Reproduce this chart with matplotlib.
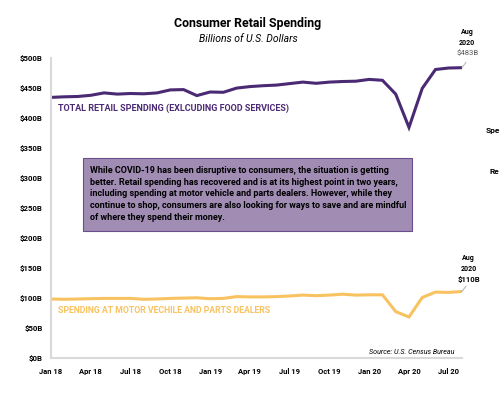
import matplotlib
matplotlib.use("Agg")
import matplotlib.pyplot as plt
from matplotlib.patches import Rectangle

# monthly values, Jan 2018 - Aug 2020 (billions of dollars)
months = ["Jan 18", "Feb 18", "Mar 18", "Apr 18", "May 18", "Jun 18", "Jul 18", "Aug 18",
          "Sep 18", "Oct 18", "Nov 18", "Dec 18", "Jan 19", "Feb 19", "Mar 19", "Apr 19",
          "May 19", "Jun 19", "Jul 19", "Aug 19", "Sep 19", "Oct 19", "Nov 19", "Dec 19",
          "Jan 20", "Feb 20", "Mar 20", "Apr 20", "May 20", "Jun 20", "Jul 20", "Aug 20"]
retail = [433.5, 434.5, 435, 437, 441, 439, 440, 439.5, 441, 446, 446.5, 436.5,
          442.5, 442, 449, 451.5, 453, 454, 456.5, 459, 457, 459, 460, 460.5,
          463.5, 462, 439, 383.5, 448.5, 480, 482.5, 483]
motor = [97.5, 97, 97.5, 98, 98.5, 98.5, 98.5, 97, 97.5, 98.5, 99, 99.5,
         98, 98.5, 101.5, 101, 101, 101.5, 102.5, 104, 103, 104, 105.5, 104,
         104.5, 104.5, 76.5, 67.5, 100, 109, 108.5, 110]
tick_labels = ["Jan 18", "Apr 18", "Jul 18", "Oct 18", "Jan 19", "Apr 19", "Jul 19",
               "Oct 19", "Jan 20", "Apr 20", "Jul 20"]
y_ticks = [0, 50, 100, 150, 200, 250, 300, 350, 400, 450, 500]

PURPLE = "#4b2a74"
ORANGE = "#f9c260"
GREY = "#d9d9d9"

plt.rcParams["font.family"] = ["Roboto", "DejaVu Sans"]

W, H = 500, 394
fig = plt.figure(figsize=(5, 3.94), dpi=100)


def fx(px):
    return px / W


def fy(py):
    return 1 - py / H


ax = fig.add_axes([fx(51), fy(357.5), fx(462) - fx(51), fy(57.5) - fy(357.5)])

x = list(range(len(months)))
ax.plot(x, retail, color=PURPLE, lw=2.2, solid_joinstyle="miter")
ax.plot(x, motor, color=ORANGE, lw=2.2, solid_joinstyle="miter")

ax.set_xlim(0, len(months) - 1)
ax.set_ylim(0, 500)
ax.set_yticks(y_ticks)
ax.set_yticklabels([f"${v}B" for v in y_ticks], fontsize=5.6, fontweight="bold")
ax.set_xticks([months.index(m) for m in tick_labels])
ax.set_xticklabels(tick_labels, fontsize=5.5, fontweight="bold")
ax.tick_params(length=0, pad=7.5)
ax.tick_params(axis="y", pad=6)
for s in ["top", "right"]:
    ax.spines[s].set_visible(False)
for s in ["left", "bottom"]:
    ax.spines[s].set_color(GREY)
    ax.spines[s].set_linewidth(1.5)

# series labels
ax.text(0.55, 415, "TOTAL RETAIL SPENDING (EXLCUDING FOOD SERVICES)", color=PURPLE,
        fontsize=6.45, fontweight="bold", va="center")
ax.text(0.55, 79, "SPENDING AT MOTOR VECHILE AND PARTS DEALERS", color=ORANGE,
        fontsize=6.3, fontweight="bold", va="center")

# end-point call-outs
last = len(months) - 1
ax.plot([last, last + 0.3], [retail[-1], retail[-1] + 9], color="#a6a6a6", lw=0.6, clip_on=False)
ax.text(last + 0.4, retail[-1] + 34, "Aug\n2020", fontsize=5, fontweight="bold",
        ha="center", va="bottom", linespacing=1.5)
ax.text(last + 0.4, retail[-1] + 24, f"${retail[-1]:.0f}B", fontsize=5.6, color="#595959",
        ha="center", va="center")
ax.plot([last, last + 0.3], [motor[-1], motor[-1] + 9], color="#a6a6a6", lw=0.6, clip_on=False)
ax.text(last + 0.5, motor[-1] + 31, "Aug\n2020", fontsize=5, fontweight="bold",
        ha="center", va="bottom", linespacing=1.5)
ax.text(last + 0.5, motor[-1] + 19.5, f"${motor[-1]:.0f}B", fontsize=5.6, fontweight="bold",
        ha="center", va="center")

ax.text(last - 0.55, 10, "Source: U.S. Census Bureau", fontsize=5.1, style="italic",
        ha="right", va="center")

# titles
fig.text(fx(248), fy(23), "Consumer Retail Spending", fontsize=8.9, fontweight="bold",
         ha="center", va="center")
fig.text(fx(248), fy(39.5), "Billions of U.S. Dollars", fontsize=7.5, style="italic",
         ha="center", va="center")

# commentary box
fig.patches.append(Rectangle((fx(82.5), fy(231)), fx(412) - fx(82.5), fy(158) - fy(231),
                             transform=fig.transFigure, facecolor="#a18db4",
                             edgecolor="#6b4c8c", lw=0.8))
fig.text(fx(90), fy(166), "While COVID-19 has been disruptive to consumers, the situation is getting\n"
         "better. Retail spending has recovered and is at its highest point in two years,\n"
         "including spending at motor vehicle and parts dealers. However, while they\n"
         "continue to shop, consumers are also looking for ways to save and are mindful\n"
         "of where they spend their money.",
         fontsize=6.5, fontweight="bold", va="top", ha="left", linespacing=1.38)

# partially visible labels at the right edge of the original slide
fig.text(fx(486), fy(131), "Spe", fontsize=6, fontweight="bold", va="center")
fig.text(fx(490), fy(172), "Re", fontsize=6, fontweight="bold", va="center")

fig.savefig("out.png", dpi=100)
